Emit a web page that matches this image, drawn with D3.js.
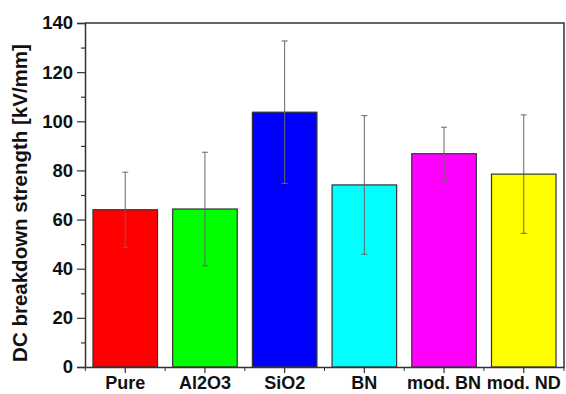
<!DOCTYPE html>
<html>
<head>
<meta charset="utf-8">
<script src="https://cdn.jsdelivr.net/npm/d3@7"></script>
<style>
  body { margin: 0; background: #fff; }
  text { font-family: "Liberation Sans", Arial, sans-serif; font-weight: bold; }
</style>
</head>
<body>
<div id="chart"></div>
<script>
// chart data
var categories = ["Pure", "Al2O3", "SiO2", "BN", "mod. BN", "mod. ND"];
var means = [64, 64.3, 103.7, 74.1, 86.8, 78.5];
var errors = [15.3, 23.1, 29, 28.2, 10.8, 24.1];
var colors = ["#ff0000", "#00ff00", "#0000ff", "#00ffff", "#ff00ff", "#ffff00"];
var yTicks = [0, 20, 40, 60, 80, 100, 120, 140];

var margin = {top: 23, right: 2, bottom: 27, left: 85},
    width = 566 - margin.left - margin.right,
    height = 394 - margin.top - margin.bottom;

var svg = d3.select("#chart")
  .append("svg")
    .attr("width", width + margin.left + margin.right)
    .attr("height", height + margin.top + margin.bottom)
  .append("g")
    .attr("transform", "translate(" + margin.left + "," + margin.top + ")");

var x = d3.scaleBand()
  .domain(categories)
  .range([0, width])
  .paddingInner(0.19)
  .paddingOuter(0.1);

var y = d3.scaleLinear()
  .domain([0, 140])
  .range([height, 0]);

var data = categories.map(function(c, i) {
  return {cat: c, mean: means[i], err: errors[i], color: colors[i]};
});

// bars
svg.selectAll(".bar")
  .data(data)
  .enter().append("rect")
    .attr("class", "bar")
    .attr("x", function(d) { return x(d.cat); })
    .attr("y", function(d) { return y(d.mean); })
    .attr("width", x.bandwidth())
    .attr("height", function(d) { return height - y(d.mean); })
    .attr("fill", function(d) { return d.color; })
    .attr("stroke", "#333")
    .attr("stroke-width", 1.2);

// error bars
var eb = svg.selectAll(".err")
  .data(data)
  .enter().append("g")
    .attr("class", "err")
    .attr("stroke", "#666")
    .attr("stroke-width", 1);
eb.append("line")
  .attr("x1", function(d) { return x(d.cat) + x.bandwidth() / 2; })
  .attr("x2", function(d) { return x(d.cat) + x.bandwidth() / 2; })
  .attr("y1", function(d) { return y(d.mean + d.err); })
  .attr("y2", function(d) { return y(d.mean - d.err); });
eb.selectAll(".cap")
  .data(function(d) { return [d.mean + d.err, d.mean - d.err].map(function(v) { return {cat: d.cat, v: v}; }); })
  .enter().append("line")
    .attr("x1", function(d) { return x(d.cat) + x.bandwidth() / 2 - 3; })
    .attr("x2", function(d) { return x(d.cat) + x.bandwidth() / 2 + 3; })
    .attr("y1", function(d) { return y(d.v); })
    .attr("y2", function(d) { return y(d.v); });

// frame (top and right)
svg.append("path")
  .attr("d", "M0,0H" + width + "V" + height)
  .attr("fill", "none")
  .attr("stroke", "#333")
  .attr("stroke-width", 1.5);

// y axis, major ticks with labels
var yAxis = svg.append("g")
  .call(d3.axisLeft(y).tickValues(yTicks).tickSize(8).tickPadding(4).tickFormat(d3.format("d")));
// y minor ticks
svg.append("g")
  .call(d3.axisLeft(y).tickValues(d3.range(10, 140, 20)).tickSize(4).tickFormat(""))
  .select(".domain").remove();

// x axis, ticks at bar centers
var xAxis = svg.append("g")
  .attr("transform", "translate(0," + height + ")")
  .call(d3.axisBottom(x).tickSize(6).tickPadding(3).tickSizeOuter(0));
// x minor ticks at category boundaries
var bounds = categories.map(function(c) { return x(c) - x.step() * x.paddingInner() / 2; });
svg.append("g")
  .attr("transform", "translate(0," + height + ")")
  .selectAll("line")
  .data(bounds.concat([width]))
  .enter().append("line")
    .attr("x1", function(d) { return d; })
    .attr("x2", function(d) { return d; })
    .attr("y1", 0)
    .attr("y2", 4)
    .attr("stroke", "#333");

svg.selectAll(".domain").attr("stroke", "#333").attr("stroke-width", 1.5);
svg.selectAll(".tick line").attr("stroke", "#333").attr("stroke-width", 1.2);
yAxis.selectAll("text").attr("font-size", 18.5).attr("fill", "#111");
xAxis.selectAll("text").attr("font-size", 18).attr("fill", "#111");

// y axis label
svg.append("text")
  .attr("transform", "rotate(-90)")
  .attr("x", -180)
  .attr("y", -margin.left + 27)
  .attr("text-anchor", "middle")
  .attr("font-size", 20.5)
  .attr("fill", "#111")
  .text("DC breakdown strength [kV/mm]");
</script>
</body>
</html>
